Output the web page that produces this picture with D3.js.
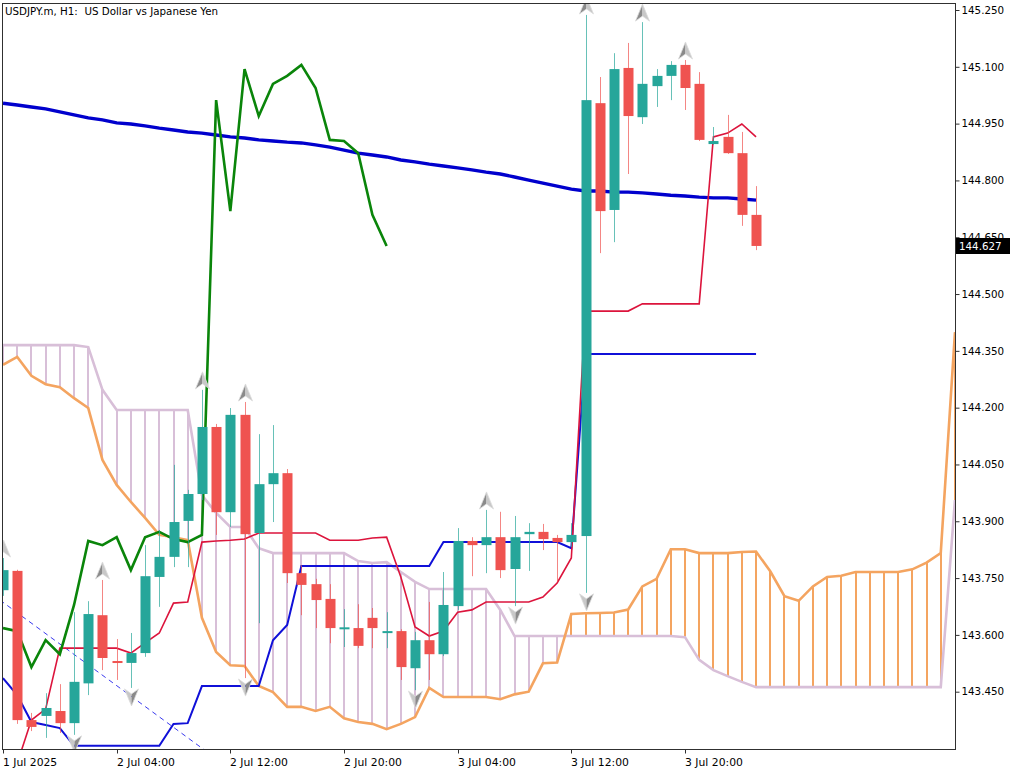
<!DOCTYPE html>
<html><head><meta charset="utf-8">
<script src="https://cdn.jsdelivr.net/npm/d3@7"></script>
<style>
body{margin:0;background:#fff;}
svg{display:block;}
text{font-family:"DejaVu Sans",sans-serif;fill:#000;}
</style>
</head><body>
<svg id="c" width="1024" height="773"></svg>
<script>
// ---- data (USDJPY.m H1) ----
const openP  = [143.718,143.769,143.375,143.386,143.399,143.367,143.472,143.652,143.531,143.526,
                143.552,143.753,143.806,143.901,143.972,144.149,143.924,144.181,143.869,143.998,
                144.027,143.763,143.734,143.695,143.616,143.618,143.645,143.606,143.610,143.512,
                143.586,143.549,143.676,143.848,143.837,143.858,143.774,143.866,143.872,143.856,
                143.845,143.861,145.004,144.722,145.097,144.967,145.049,145.076,145.105,145.055,
                144.896,144.915,144.872,144.709];
const highP  = [143.803,143.772,143.394,143.446,143.470,143.660,143.689,143.745,143.589,143.605,
                143.837,143.877,144.049,143.983,144.247,144.157,144.199,144.215,144.130,144.154,
                144.038,143.784,143.748,143.734,143.668,143.681,143.671,143.660,143.615,143.608,
                143.687,143.766,143.882,143.858,143.930,143.925,143.914,143.895,143.893,143.864,
                143.895,145.237,145.073,145.136,145.163,145.218,145.094,145.115,145.118,145.086,
                144.941,144.973,144.928,144.785];
const lowP   = [143.703,143.365,143.346,143.328,143.341,143.336,143.441,143.507,143.481,143.460,
                143.542,143.674,143.779,143.779,143.956,143.864,143.885,143.486,143.631,143.898,
                143.737,143.652,143.618,143.578,143.568,143.565,143.565,143.565,143.481,143.454,
                143.481,143.544,143.666,143.755,143.763,143.750,143.676,143.769,143.824,143.740,
                143.832,143.711,144.608,144.637,144.817,144.949,144.994,145.012,144.986,144.904,
                144.894,144.870,144.680,144.616];
const closeP = [143.771,143.375,143.357,143.407,143.367,143.476,143.655,143.539,143.526,143.552,
                143.755,143.806,143.898,143.972,144.149,143.924,144.181,143.866,143.998,144.027,
                143.763,143.732,143.692,143.618,143.620,143.571,143.618,143.610,143.515,143.586,
                143.549,143.679,143.848,143.837,143.858,143.771,143.858,143.872,143.853,143.845,
                143.864,145.012,144.719,145.094,144.970,145.055,145.076,145.105,145.044,144.907,
                144.904,144.872,144.709,144.627];
const maP    = [145.004,144.999,144.994,144.989,144.981,144.973,144.965,144.960,144.952,144.949,
                144.944,144.938,144.933,144.928,144.925,144.920,144.915,144.912,144.907,144.904,
                144.901,144.899,144.894,144.888,144.880,144.872,144.867,144.862,144.854,144.849,
                144.843,144.838,144.833,144.828,144.822,144.817,144.809,144.801,144.793,144.785,
                144.777,144.772,144.772,144.769,144.769,144.767,144.764,144.761,144.759,144.756,
                144.754,144.754,144.751,144.748];
const tenkanP = [143.244,143.261,143.375,143.404,143.565,143.565,143.565,143.565,143.565,143.552,
                 143.579,143.605,143.684,143.687,143.845,143.848,143.850,143.853,143.869,143.869,
                 143.869,143.869,143.869,143.850,143.850,143.850,143.856,143.858,143.753,143.621,
                 143.597,143.610,143.660,143.666,143.687,143.687,143.687,143.687,143.700,143.737,
                 143.803,144.455,144.455,144.455,144.455,144.474,144.474,144.474,144.474,144.474,
                 144.915,144.925,144.949,144.915];
const kijunP  = [143.486,143.441,143.370,143.362,143.354,143.307,143.307,143.307,143.307,143.307,
                 143.307,143.307,143.365,143.367,143.465,143.465,143.465,143.465,143.465,143.586,
                 143.626,143.782,143.782,143.782,143.782,143.782,143.782,143.782,143.782,143.782,
                 143.782,143.845,143.845,143.845,143.845,143.845,143.845,143.845,143.845,143.845,
                 143.829,144.342,144.342,144.342,144.342,144.342,144.342,144.342,144.342,144.342,
                 144.342,144.342,144.342,144.342];
const senkouA = [144.313,144.334,144.284,144.262,144.254,144.225,144.199,144.062,143.996,143.951,
                 143.909,143.864,143.858,143.850,143.645,143.555,143.520,143.518,143.465,143.449,
                 143.410,143.410,143.399,143.410,143.380,143.370,143.365,143.351,143.365,143.383,
                 143.460,143.436,143.436,143.436,143.436,143.430,143.443,143.450,143.525,143.527,
                 143.655,143.657,143.658,143.659,143.667,143.728,143.748,143.826,143.826,143.816,
                 143.816,143.816,143.819,143.820,143.768,143.702,143.690,143.728,143.753,143.756,
                 143.766,143.766,143.766,143.766,143.773,143.791,143.816,144.399];
const senkouB = [144.365,144.365,144.365,144.365,144.365,144.365,144.360,144.247,144.194,144.194,
                 144.194,144.194,144.194,144.194,143.969,143.922,143.885,143.885,143.829,143.816,
                 143.816,143.816,143.816,143.816,143.816,143.795,143.790,143.792,143.766,143.740,
                 143.721,143.721,143.721,143.721,143.721,143.666,143.597,143.597,143.597,143.597,
                 143.597,143.597,143.597,143.597,143.597,143.597,143.597,143.597,143.594,143.534,
                 143.507,143.491,143.476,143.462,143.462,143.462,143.462,143.462,143.462,143.462,
                 143.462,143.462,143.462,143.462,143.462,143.462,143.462,143.956];
const chikouShift = 26;
const fractalUp   = [0,7,14,17,34,41,45,48];
const fractalDown = [5,9,17,29,36,41];
const trendBars   = [0,14];
const trendPrices = [143.686,143.301];
const priceTicks  = [145.25,145.10,144.95,144.80,144.65,144.50,144.35,144.20,144.05,143.90,143.75,143.60,143.45];
const timeLabels  = ["1 Jul 2025","2 Jul 04:00","2 Jul 12:00","2 Jul 20:00","3 Jul 04:00","3 Jul 12:00","3 Jul 20:00"];
const timeBars    = [0,8,16,24,32,40,48];
const lastPrice   = 144.627;
const title = "USDJPY.m, H1:  US Dollar vs Japanese Yen";

// ---- layout ----
const L = 2, T = 3, R = 955, B = 749;
const svg = d3.select("#c");
const x = d3.scaleLinear().domain([0, 48]).range([3, 685]);
const y = d3.scaleLinear().domain([143.45, 145.25]).range([691.7, 10]);

svg.append("defs").append("clipPath").attr("id","clip")
  .append("rect").attr("x",L+1).attr("y",T+1).attr("width",R-L-1).attr("height",B-T-1);
const g = svg.append("g").attr("clip-path","url(#clip)");

const COL_UP = "#26a69a", COL_DN = "#ef5350";
const COL_A = "#f4a460", COL_B = "#d8bfd8";

// cloud hatch
g.append("g").selectAll("line").data(senkouA).join("line")
  .attr("x1",(d,i)=>Math.round(x(i))).attr("x2",(d,i)=>Math.round(x(i)))
  .attr("y1",d=>y(d)).attr("y2",(d,i)=>y(senkouB[i]))
  .attr("stroke",(d,i)=> d >= senkouB[i] ? COL_A : COL_B)
  .attr("stroke-width",2);

const line = d3.line().x((d,i)=>x(i)).y(d=>y(d));
g.append("path").attr("d",line(senkouB)).attr("fill","none").attr("stroke",COL_B).attr("stroke-width",2.6);
g.append("path").attr("d",line(senkouA)).attr("fill","none").attr("stroke",COL_A).attr("stroke-width",2.6);

// moving average
g.append("path").attr("d",line(maP)).attr("fill","none").attr("stroke","#0000cd").attr("stroke-width",3.4);

// trend line (dashed)
const tx0 = x(trendBars[0]), tx1 = x(trendBars[1]);
const ty0 = y(trendPrices[0]), ty1 = y(trendPrices[1]);
const slope = (ty1-ty0)/(tx1-tx0);
g.append("line").attr("x1",0).attr("y1",ty0 - slope*tx0)
  .attr("x2",300).attr("y2",ty0 + slope*(300-tx0))
  .attr("stroke","#3a3aee").attr("stroke-width",1).attr("stroke-dasharray","5,4");

// tenkan / kijun
g.append("path").attr("d",line(kijunP)).attr("fill","none").attr("stroke","#1010d8").attr("stroke-width",2);
g.append("path").attr("d",line(tenkanP)).attr("fill","none").attr("stroke","#dc143c").attr("stroke-width",1.6);

// chikou (close shifted back)
const chikou = closeP.slice(chikouShift);
g.append("path").attr("d",line(chikou)).attr("fill","none").attr("stroke","#0a850a").attr("stroke-width",2.6);

// candles
const candles = openP.map((o,i)=>({i,o,h:highP[i],l:lowP[i],c:closeP[i]}));
const cg = g.append("g");
cg.selectAll("line").data(candles).join("line")
  .attr("x1",d=>Math.round(x(d.i))+0.5).attr("x2",d=>Math.round(x(d.i))+0.5)
  .attr("y1",d=>y(d.h)).attr("y2",d=>y(d.l))
  .attr("stroke",d=>d.c>=d.o?COL_UP:COL_DN).attr("stroke-opacity",0.7).attr("stroke-width",1);
cg.selectAll("rect").data(candles).join("rect")
  .attr("x",d=>Math.round(x(d.i))-4.5).attr("width",10)
  .attr("y",d=>y(Math.max(d.o,d.c)))
  .attr("height",d=>Math.max(2, Math.abs(y(d.o)-y(d.c))))
  .attr("fill",d=>d.c>=d.o?COL_UP:COL_DN);

// fractal arrows
const ag = g.append("g");
fractalUp.forEach(i=>{
  const cx = Math.round(x(i))+0.5, t = y(highP[i]) - 18;
  ag.append("path").attr("d",`M${cx},${t} L${cx},${t+12} L${cx-7},${t+17} Z`).attr("fill","#8a8a8a");
  ag.append("path").attr("d",`M${cx},${t} L${cx+7},${t+17} L${cx},${t+12} Z`).attr("fill","#c8c8c8");
  ag.append("path").attr("d",`M${cx},${t} L${cx+7},${t+17} L${cx},${t+12} L${cx-7},${t+17} Z`)
    .attr("fill","none").attr("stroke","#dcdcdc").attr("stroke-width",0.8);
});
fractalDown.forEach(i=>{
  const cx = Math.round(x(i))+0.5, b = y(lowP[i]) + 18;
  ag.append("path").attr("d",`M${cx},${b} L${cx-7},${b-17} L${cx},${b-12} Z`).attr("fill","#c8c8c8");
  ag.append("path").attr("d",`M${cx},${b} L${cx},${b-12} L${cx+7},${b-17} Z`).attr("fill","#8a8a8a");
  ag.append("path").attr("d",`M${cx},${b} L${cx-7},${b-17} L${cx},${b-12} L${cx+7},${b-17} Z`)
    .attr("fill","none").attr("stroke","#dcdcdc").attr("stroke-width",0.8);
});

// frame
svg.append("rect").attr("x",L+0.5).attr("y",T+0.5).attr("width",R-L).attr("height",B-T)
  .attr("fill","none").attr("stroke","#303030").attr("stroke-width",1);

// right axis
const ya = svg.append("g").attr("transform",`translate(${R+0.5},0)`)
  .call(d3.axisRight(y).tickValues(priceTicks).tickSize(4).tickPadding(2).tickFormat(d3.format(".3f")));
ya.select(".domain").remove();
ya.selectAll("line").attr("stroke","#303030");
ya.selectAll("text").attr("font-size",10.3).attr("font-family","DejaVu Sans").attr("fill","#000");

// bottom axis
const xa = svg.append("g").attr("transform",`translate(0,${B+0.5})`);
timeBars.forEach((b,k)=>{
  const px = Math.round(x(b))+0.5;
  xa.append("line").attr("x1",px).attr("x2",px).attr("y1",0).attr("y2",4).attr("stroke","#303030");
  xa.append("text").attr("x",Math.round(x(b))).attr("y",16).attr("font-size",10.8).text(timeLabels[k]);
});

// current price label
const py = y(lastPrice);
svg.append("rect").attr("x",R+1).attr("y",Math.round(py)-8).attr("width",54).attr("height",16).attr("fill","#000");
svg.append("text").attr("x",R+4).attr("y",Math.round(py)+4).attr("font-size",10.3)
  .style("fill","#fff").text(d3.format(".3f")(lastPrice));

// title
svg.append("text").attr("x",5).attr("y",15).attr("font-size",10.3).style("white-space","pre").text(title);
</script>
</body></html>
